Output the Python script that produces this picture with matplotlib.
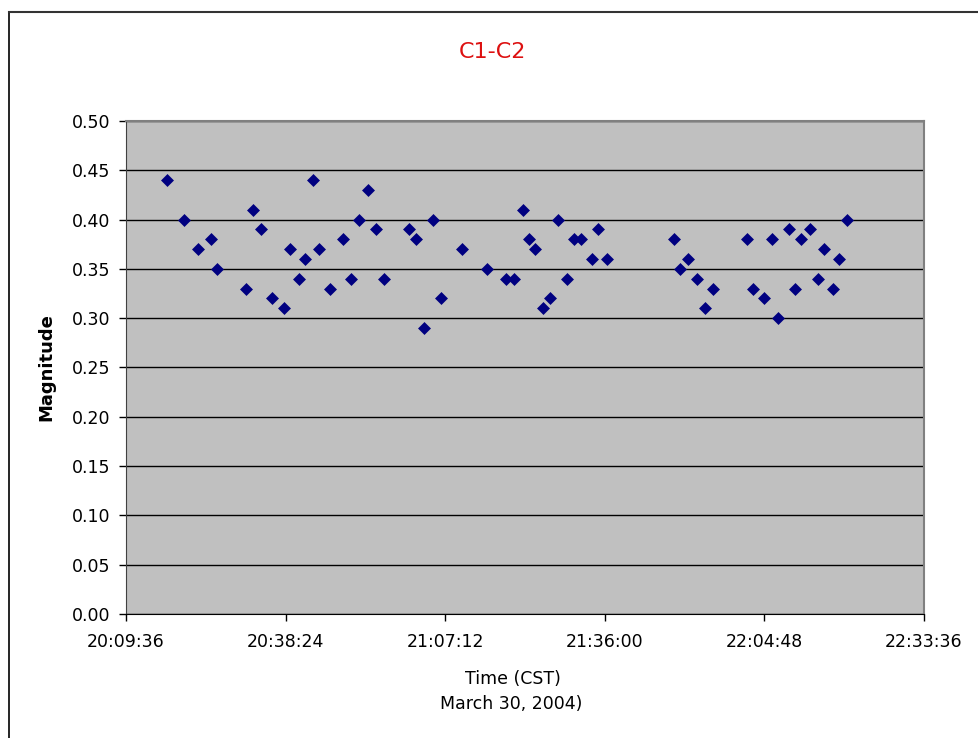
import numpy as np
import matplotlib
matplotlib.use('Agg')
import matplotlib.pyplot as plt
from matplotlib.ticker import FuncFormatter, MultipleLocator
from matplotlib.lines import Line2D

# observation times (CST) and C1-C2 magnitude differences
times = ['20:17:00', '20:20:00', '20:22:39', '20:24:53', '20:26:01', '20:31:15',
         '20:32:28', '20:34:01', '20:35:53', '20:38:07', '20:39:15', '20:40:49',
         '20:41:54', '20:43:24', '20:44:29', '20:46:21', '20:48:42', '20:50:12',
         '20:51:42', '20:53:13', '20:54:43', '20:56:13', '21:00:40', '21:01:53',
         '21:03:26', '21:04:57', '21:06:27', '21:10:14', '21:14:48', '21:18:07',
         '21:19:40', '21:21:11', '21:22:19', '21:23:28', '21:24:54', '21:26:07',
         '21:27:37', '21:29:07', '21:30:30', '21:31:42', '21:33:38', '21:34:46',
         '21:36:21', '21:48:26', '21:49:34', '21:51:04', '21:52:35', '21:54:05',
         '21:55:35', '22:01:36', '22:02:48', '22:04:40', '22:06:10', '22:07:18',
         '22:09:14', '22:10:19', '22:11:27', '22:12:58', '22:14:28', '22:15:36',
         '22:17:07', '22:18:16', '22:19:45']
mags = [0.44, 0.40, 0.37, 0.38, 0.35, 0.33,
        0.41, 0.39, 0.32, 0.31, 0.37, 0.34,
        0.36, 0.44, 0.37, 0.33, 0.38, 0.34,
        0.40, 0.43, 0.39, 0.34, 0.39, 0.38,
        0.29, 0.40, 0.32, 0.37, 0.35, 0.34,
        0.34, 0.41, 0.38, 0.37, 0.31, 0.32,
        0.40, 0.34, 0.38, 0.38, 0.36, 0.39,
        0.36, 0.38, 0.35, 0.36, 0.34, 0.31,
        0.33, 0.38, 0.33, 0.32, 0.38, 0.30,
        0.39, 0.33, 0.38, 0.39, 0.34, 0.37,
        0.33, 0.36, 0.40]


def to_sec(s):
    h, m, sec = s.split(':')
    return int(h) * 3600 + int(m) * 60 + int(sec)


def fmt_time(v, pos):
    v = int(round(v))
    return '%d:%02d:%02d' % (v // 3600, (v % 3600) // 60, v % 60)


x = np.array([to_sec(t) for t in times])
y = np.array(mags)

W, H = 979, 738
fig = plt.figure(figsize=(W / 100, H / 100), dpi=100)
ax = fig.add_axes([126 / W, 1 - 614 / H, 798 / W, 493 / H])
ax.set_facecolor('#c0c0c0')

ax.scatter(x, y, marker='D', s=6.6 ** 2, color='#000080', linewidths=0, zorder=3)

x0 = to_sec('20:09:36')
ax.set_xlim(x0, x0 + 5 * 1728)
ax.xaxis.set_major_locator(MultipleLocator(1728))
ax.xaxis.set_major_formatter(FuncFormatter(fmt_time))
ax.set_ylim(0, 0.5)
ax.yaxis.set_major_locator(MultipleLocator(0.05))
ax.yaxis.set_major_formatter(FuncFormatter(lambda v, p: '%.2f' % v))
ax.grid(axis='y', color='black', linewidth=1)
ax.set_axisbelow(True)

for side in ['top', 'right']:
    ax.spines[side].set_color('#808080')
    ax.spines[side].set_linewidth(1.5)
ax.spines['left'].set_color('#404040')
ax.spines['bottom'].set_color('black')
ax.tick_params(direction='out', length=5, width=1, labelsize=12.5)
ax.tick_params(axis='x', pad=9)
ax.tick_params(axis='y', pad=6)

fig.text(492 / W, 1 - 52 / H, 'C1-C2', color='#dd1111', fontsize=16,
         ha='center', va='center')
ax.set_ylabel('Magnitude', fontsize=13, fontweight='bold', labelpad=12)
fig.text(513 / W, 1 - 679 / H, 'Time (CST)', fontsize=12.5, ha='center', va='center')
fig.text(511 / W, 1 - 704 / H, 'March 30, 2004)', fontsize=12.5, ha='center', va='center')

# outer chart frame
fig.add_artist(Line2D([9 / W, 9 / W], [0, 1 - 12 / H], color='black', lw=1.2))
fig.add_artist(Line2D([9 / W, 1], [1 - 12 / H, 1 - 12 / H], color='#333333', lw=1.5))

fig.savefig('out.png', dpi=100)
